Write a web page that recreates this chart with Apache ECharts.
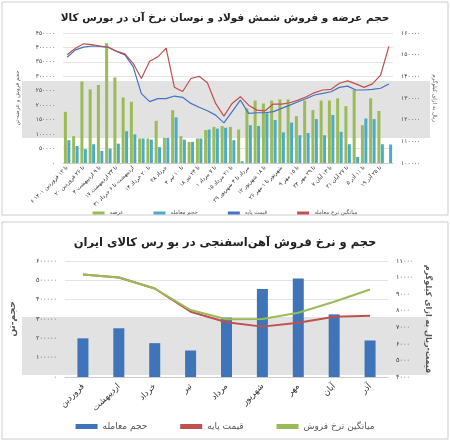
<!DOCTYPE html>
<html><head><meta charset="utf-8">
<script src="https://cdn.jsdelivr.net/npm/echarts@6/dist/echarts.min.js"></script>
<style>html,body{margin:0;padding:0;background:#fff}#c{width:450px;height:442px}</style>
</head><body><div id="c"></div>
<script>
const weeks = ["۶ تا ۱۲ فروردین ۱۴۰۱","","۲۰ تا ۲۶ فروردین","","۳ تا ۹ اردیبهشت","","۱۷ تا ۲۳ اردیبهشت","","۳۱ اردیبهشت تا ۶ خرداد","","۱۴ تا ۲۰ خرداد","","۲۸ خرداد","","۴ تا ۱۰ تیر","","۱۸ تا ۲۴ تیر","","۱ تا ۷ مرداد","","۱۵ تا ۲۱ مرداد","","۲۹ مرداد تا ۴ شهریور","","۱۲ تا ۱۸ شهریور","","۲۶ شهریور تا ۱ مهر","","۹ تا ۱۵ مهر","","۲۳ تا ۲۹ مهر","","۷ تا ۱۳ آبان","","۲۱ تا ۲۷ آبان","","۵ تا ۱۱ آذر","","۱۹ تا ۲۵ آذر",""];
const offer = [177000,93000,282000,255000,270000,415000,296000,227000,212000,85000,85000,146000,87000,183000,93000,73000,85000,114000,125000,128000,125000,116000,189000,216000,206000,216000,220000,220000,162000,216000,183000,216000,216000,224000,197000,253000,131000,224000,180000,null];
const volume = [79000,59000,48000,65000,42000,50000,67000,110000,99000,85000,81000,55000,87000,158000,81000,73000,85000,116000,119000,122000,79000,6000,131000,128000,172000,149000,106000,140000,96000,104000,152000,96000,166000,108000,65000,21000,154000,152000,65000,64000];
const basePrice = [148800,152200,153500,154000,153800,153300,151500,149900,144500,132000,128300,129700,129700,130900,130300,127500,125700,124100,122100,118500,123700,129000,122900,123200,123200,123700,125200,126700,128300,129800,131400,132100,132900,134900,135500,133700,133700,134000,134500,136500];
const avgPrice = [150000,153000,155000,154600,154000,153500,151500,150400,146000,139000,147000,149000,153000,135000,133000,139000,140000,137000,127500,121600,127500,130600,126700,124400,124100,127200,127200,127800,129000,130600,132500,133700,134000,136800,137900,136500,134900,136500,140600,153800];
const months = ["فروردین","اردیبهشت","خرداد","تیر","مرداد","شهریور","مهر","آبان","آذر"];
const rebarVolume = [200000,252000,175000,137000,307000,455000,509000,324000,189000];
const rebarBase = [10180,10000,9340,7940,7300,7040,7280,7640,7700];
const rebarAvg = [10180,10000,9340,8040,7480,7500,7880,8540,9280];

const fa = v => String(v).replace(/\d/g, d => "۰۱۲۳۴۵۶۷۸۹"[d]);
const F = "DejaVu Sans";
const ax = {fontSize:6, color:'#444', fontFamily:F, formatter: fa};
const chart = echarts.init(document.getElementById('c'));
chart.setOption({
  animation:false,
  textStyle:{fontFamily:F},
  graphic:[
    {type:'rect',shape:{x:2,y:2,width:446,height:213},style:{fill:'none',stroke:'#ccc'}},
    {type:'rect',shape:{x:2,y:222,width:446,height:217},style:{fill:'none',stroke:'#ccc'}},
    {type:'rect',z:-1,shape:{x:22,y:81,width:408,height:57},style:{fill:'#e2e2e2'}},
    {type:'rect',z:-1,shape:{x:22,y:317,width:406,height:58},style:{fill:'#e2e2e2'}}
  ],
  title:[
    {text:'حجم عرضه و فروش شمش فولاد و نوسان نرخ آن در بورس کالا',left:'center',top:8,textStyle:{fontSize:10.5,fontWeight:'bold',color:'#222',fontFamily:F}},
    {text:'حجم و نرخ فروش آهن‌اسفنجی در بو رس کالای ایران',left:'center',top:232,textStyle:{fontSize:11.5,fontWeight:'bold',color:'#222',fontFamily:F}}
  ],
  legend:[
    {top:205,left:'center',itemWidth:12,itemHeight:3,itemGap:30,textStyle:{fontSize:5.5,fontFamily:F},
     data:[{name:'عرضه',icon:'rect'},{name:'حجم معامله',icon:'rect'},{name:'قیمت پایه',icon:'rect'},{name:'میانگین نرخ معامله',icon:'rect'}]},
    {bottom:6,left:'center',itemWidth:22,itemHeight:5,itemGap:30,textStyle:{fontSize:9,fontFamily:F},
     data:[{name:'حجم معامله ',icon:'rect'},{name:'قیمت پایه ',icon:'rect'},{name:'میانگین نرخ فروش',icon:'rect'}]}
  ],
  grid:[
    {left:63,right:57,top:33,height:130},
    {left:63,right:62,top:261,height:116}
  ],
  xAxis:[
    {type:'category',gridIndex:0,data:weeks,boundaryGap:['1%','1%'],axisTick:{show:false},axisLine:{lineStyle:{color:'#ccc'}},
     axisLabel:{interval:0,rotate:45,fontSize:5.5,color:'#333',fontFamily:F,margin:4,formatter:fa}},
    {type:'category',gridIndex:1,data:months,axisTick:{show:false},axisLine:{lineStyle:{color:'#ccc'}},
     axisLabel:{interval:0,rotate:45,fontSize:8.5,color:'#333',fontFamily:F,margin:8}}
  ],
  yAxis:[
    {type:'value',gridIndex:0,min:0,max:450000,interval:50000,name:'حجم فروش و عرضه-تن',nameLocation:'middle',nameGap:42,nameTextStyle:{fontSize:5.5},
     splitLine:{lineStyle:{color:'#e4e4e4'}},axisLabel:ax},
    {type:'value',gridIndex:0,min:100000,max:160000,interval:10000,position:'right',name:'ریال به ازای کیلوگرم',nameLocation:'middle',nameGap:36,nameRotate:-90,nameTextStyle:{fontSize:5.5},
     splitLine:{show:false},axisLabel:ax},
    {type:'value',gridIndex:1,min:0,max:600000,interval:100000,name:'حجم-تن',nameLocation:'middle',nameGap:48,nameTextStyle:{fontSize:9,fontWeight:'bold'},
     splitLine:{lineStyle:{color:'#e4e4e4'}},axisLabel:{...ax,fontSize:6.5}},
    {type:'value',gridIndex:1,min:4000,max:11000,interval:1000,position:'right',name:'قیمت-ریال به ازای کیلوگرم',nameLocation:'middle',nameGap:33,nameRotate:-90,nameTextStyle:{fontSize:8,fontWeight:'bold'},
     splitLine:{show:false},axisLabel:{...ax,fontSize:6.5}}
  ],
  series:[
    {name:'عرضه',type:'bar',xAxisIndex:0,yAxisIndex:0,data:offer,barWidth:3,barGap:'15%',itemStyle:{color:'#9bbb59'}},
    {name:'حجم معامله',type:'bar',xAxisIndex:0,yAxisIndex:0,data:volume,barWidth:3,itemStyle:{color:'#4bacc6'}},
    {name:'قیمت پایه',type:'line',xAxisIndex:0,yAxisIndex:1,data:basePrice,symbol:'none',lineStyle:{width:1.2,color:'#4472c4'},itemStyle:{color:'#4472c4'}},
    {name:'میانگین نرخ معامله',type:'line',xAxisIndex:0,yAxisIndex:1,data:avgPrice,symbol:'none',lineStyle:{width:1.2,color:'#c0504d'},itemStyle:{color:'#c0504d'}},
    {name:'حجم معامله ',type:'bar',xAxisIndex:1,yAxisIndex:2,data:rebarVolume,barWidth:11,itemStyle:{color:'#3f74b8'}},
    {name:'قیمت پایه ',type:'line',xAxisIndex:1,yAxisIndex:3,data:rebarBase,symbol:'none',lineStyle:{width:2,color:'#c0504d'},itemStyle:{color:'#c0504d'}},
    {name:'میانگین نرخ فروش',type:'line',xAxisIndex:1,yAxisIndex:3,data:rebarAvg,symbol:'none',lineStyle:{width:2,color:'#9bbb59'},itemStyle:{color:'#9bbb59'}}
  ]
});
</script></body></html>
